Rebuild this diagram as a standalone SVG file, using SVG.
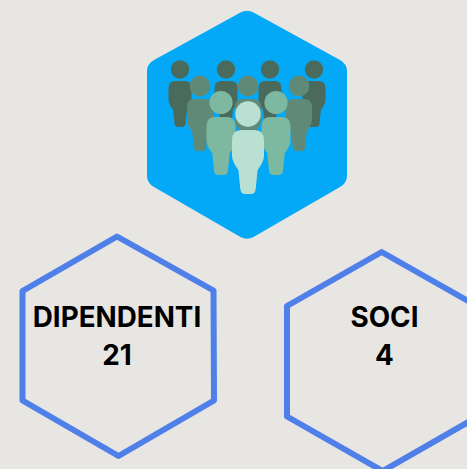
<svg xmlns="http://www.w3.org/2000/svg" xmlns:xlink="http://www.w3.org/1999/xlink" width="467" height="469" viewBox="0 0 467 469">
<style>
.hex{fill:none;stroke:#4f7fe8;stroke-width:6;stroke-linejoin:round}
.lbl{font-family:Inter,"Liberation Sans",sans-serif;font-weight:700;font-size:27.8px;fill:#000;text-anchor:middle}
.d{fill:#4a6a5b}.m{fill:#5f8a78}.l{fill:#7db8a0}.w{fill:#b9e0d2}
</style>
<defs>
<g id="person">
<circle cx="0" cy="-50" r="40"/>
<path d="M-20,0H20Q50,0 50,32V80Q50,100 30,125L24,185Q22,200 10,200H-10Q-22,200 -24,185L-30,125Q-50,100 -50,80V32Q-50,0 -20,0Z"/>
</g>
</defs>
<rect width="467" height="469" fill="#e8e6e3"/>
<g id="people-hex">
<path d="M240.500,12.500Q247,9 253.500,12.500L340,60Q347,64 347,71V176Q347,183 340,187L253.500,237Q247,240.500 240.500,237L154,187Q147,183 147,176V71Q147,64 154,60Z" fill="#03a9f6"/>
<use xlink:href="#person" href="#person" class="d" transform="translate(180,81) scale(.23)"/>
<use xlink:href="#person" href="#person" class="d" transform="translate(226,81) scale(.23)"/>
<use xlink:href="#person" href="#person" class="d" transform="translate(270,81) scale(.23)"/>
<use xlink:href="#person" href="#person" class="d" transform="translate(314,81) scale(.23)"/>
<use xlink:href="#person" href="#person" class="m" transform="translate(200,99) scale(.26)"/>
<use xlink:href="#person" href="#person" class="m" transform="translate(248,99) scale(.26)"/>
<use xlink:href="#person" href="#person" class="m" transform="translate(299,99) scale(.26)"/>
<use xlink:href="#person" href="#person" class="l" transform="translate(221,117) scale(.29)"/>
<use xlink:href="#person" href="#person" class="l" transform="translate(276,117) scale(.29)"/>
<use xlink:href="#person" href="#person" class="w" transform="translate(248,130) scale(.32)"/>
</g>
<g id="dipendenti">
<path class="hex" d="M117,236.500L213.500,290.500L214,400.500L118.500,456L22.500,400.500L22.500,291Z"/>
<text class="lbl" x="117" y="327">DIPENDENTI</text>
<text class="lbl" x="117" y="364.500">21</text>
</g>
<g id="soci">
<path class="hex" d="M381.700,252L477,306L477,417L382.700,471L287,416.500L287,306Z"/>
<text class="lbl" x="384.500" y="327">SOCI</text>
<text class="lbl" x="384.500" y="364.500">4</text>
</g>
</svg>
